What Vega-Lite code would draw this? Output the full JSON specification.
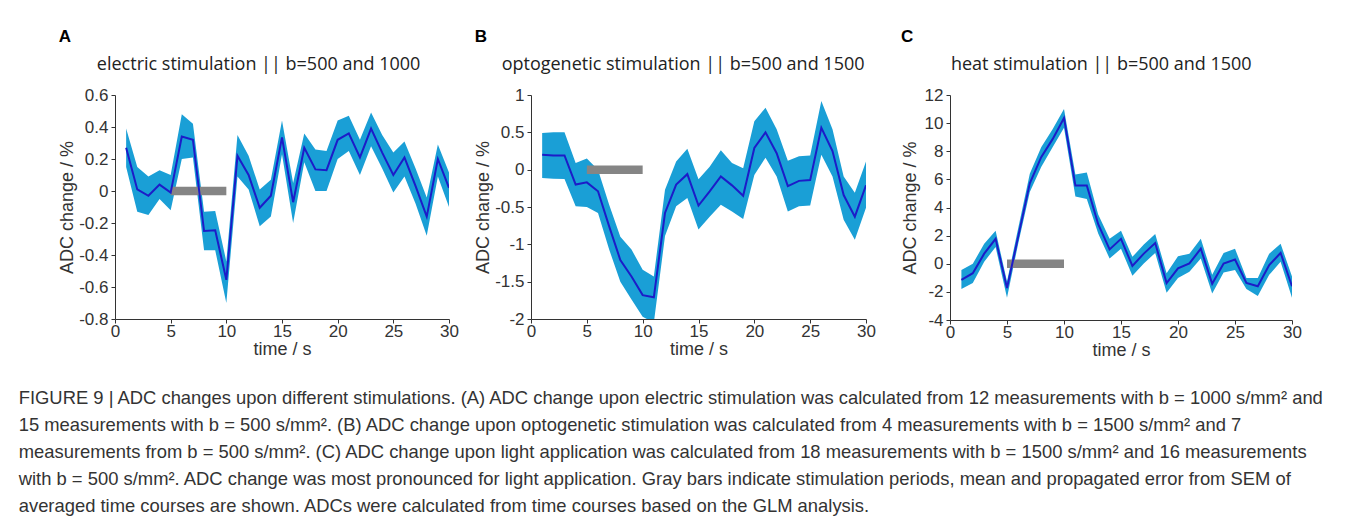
{
  "$schema": "https://vega.github.io/schema/vega-lite/v6.json",
  "padding": {"left": 18, "top": 28, "right": 5, "bottom": 5},
  "background": "#ffffff",
  "datasets": {
    "adc": [
      {"panel":"A","t":1,"mean":0.27,"lo":0.15,"hi":0.39},
      {"panel":"A","t":2,"mean":0.01,"lo":-0.13,"hi":0.15},
      {"panel":"A","t":3,"mean":-0.03,"lo":-0.15,"hi":0.09},
      {"panel":"A","t":4,"mean":0.04,"lo":-0.05,"hi":0.13},
      {"panel":"A","t":5,"mean":-0.01,"lo":-0.12,"hi":0.10},
      {"panel":"A","t":6,"mean":0.34,"lo":0.20,"hi":0.48},
      {"panel":"A","t":7,"mean":0.32,"lo":0.21,"hi":0.42},
      {"panel":"A","t":8,"mean":-0.25,"lo":-0.37,"hi":-0.13},
      {"panel":"A","t":9,"mean":-0.245,"lo":-0.37,"hi":-0.125},
      {"panel":"A","t":10,"mean":-0.555,"lo":-0.70,"hi":-0.44},
      {"panel":"A","t":11,"mean":0.22,"lo":0.09,"hi":0.35},
      {"panel":"A","t":12,"mean":0.10,"lo":0.01,"hi":0.22},
      {"panel":"A","t":13,"mean":-0.105,"lo":-0.22,"hi":0.01},
      {"panel":"A","t":14,"mean":-0.03,"lo":-0.16,"hi":0.07},
      {"panel":"A","t":15,"mean":0.335,"lo":0.23,"hi":0.44},
      {"panel":"A","t":16,"mean":-0.07,"lo":-0.20,"hi":0.05},
      {"panel":"A","t":17,"mean":0.27,"lo":0.18,"hi":0.36},
      {"panel":"A","t":18,"mean":0.135,"lo":0.0,"hi":0.26},
      {"panel":"A","t":19,"mean":0.13,"lo":0.0,"hi":0.25},
      {"panel":"A","t":20,"mean":0.32,"lo":0.20,"hi":0.44},
      {"panel":"A","t":21,"mean":0.36,"lo":0.25,"hi":0.47},
      {"panel":"A","t":22,"mean":0.21,"lo":0.10,"hi":0.32},
      {"panel":"A","t":23,"mean":0.39,"lo":0.28,"hi":0.49},
      {"panel":"A","t":24,"mean":0.24,"lo":0.14,"hi":0.35},
      {"panel":"A","t":25,"mean":0.10,"lo":-0.01,"hi":0.24},
      {"panel":"A","t":26,"mean":0.21,"lo":0.09,"hi":0.31},
      {"panel":"A","t":27,"mean":0.03,"lo":-0.08,"hi":0.14},
      {"panel":"A","t":28,"mean":-0.16,"lo":-0.28,"hi":-0.04},
      {"panel":"A","t":29,"mean":0.20,"lo":0.09,"hi":0.29},
      {"panel":"A","t":30,"mean":0.02,"lo":-0.10,"hi":0.115},
      {"panel":"B","t":1,"mean":0.2,"lo":-0.11,"hi":0.49},
      {"panel":"B","t":2,"mean":0.19,"lo":-0.12,"hi":0.5},
      {"panel":"B","t":3,"mean":0.19,"lo":-0.125,"hi":0.5},
      {"panel":"B","t":4,"mean":-0.2,"lo":-0.49,"hi":0.09},
      {"panel":"B","t":5,"mean":-0.17,"lo":-0.5,"hi":0.15},
      {"panel":"B","t":6,"mean":-0.29,"lo":-0.58,"hi":0.0},
      {"panel":"B","t":7,"mean":-0.76,"lo":-1.07,"hi":-0.47},
      {"panel":"B","t":8,"mean":-1.21,"lo":-1.5,"hi":-0.9},
      {"panel":"B","t":9,"mean":-1.43,"lo":-1.74,"hi":-1.07},
      {"panel":"B","t":10,"mean":-1.68,"lo":-1.97,"hi":-1.34},
      {"panel":"B","t":11,"mean":-1.71,"lo":-2.05,"hi":-1.43},
      {"panel":"B","t":12,"mean":-0.58,"lo":-0.89,"hi":-0.27},
      {"panel":"B","t":13,"mean":-0.2,"lo":-0.49,"hi":0.11},
      {"panel":"B","t":14,"mean":-0.06,"lo":-0.38,"hi":0.28},
      {"panel":"B","t":15,"mean":-0.48,"lo":-0.8,"hi":-0.13},
      {"panel":"B","t":16,"mean":-0.29,"lo":-0.63,"hi":0.04},
      {"panel":"B","t":17,"mean":-0.09,"lo":-0.47,"hi":0.26},
      {"panel":"B","t":18,"mean":-0.21,"lo":-0.56,"hi":0.09},
      {"panel":"B","t":19,"mean":-0.35,"lo":-0.66,"hi":0.02},
      {"panel":"B","t":20,"mean":0.29,"lo":-0.07,"hi":0.65},
      {"panel":"B","t":21,"mean":0.5,"lo":0.16,"hi":0.83},
      {"panel":"B","t":22,"mean":0.22,"lo":-0.09,"hi":0.54},
      {"panel":"B","t":23,"mean":-0.22,"lo":-0.56,"hi":0.12},
      {"panel":"B","t":24,"mean":-0.15,"lo":-0.49,"hi":0.18},
      {"panel":"B","t":25,"mean":-0.14,"lo":-0.48,"hi":0.19},
      {"panel":"B","t":26,"mean":0.56,"lo":0.2,"hi":0.92},
      {"panel":"B","t":27,"mean":0.25,"lo":-0.09,"hi":0.54},
      {"panel":"B","t":28,"mean":-0.34,"lo":-0.67,"hi":-0.09},
      {"panel":"B","t":29,"mean":-0.63,"lo":-0.94,"hi":-0.31},
      {"panel":"B","t":30,"mean":-0.21,"lo":-0.51,"hi":0.11},
      {"panel":"C","t":1,"mean":-1.14,"lo":-1.8,"hi":-0.44},
      {"panel":"C","t":2,"mean":-0.67,"lo":-1.37,"hi":0.0},
      {"panel":"C","t":3,"mean":0.72,"lo":0.14,"hi":1.42},
      {"panel":"C","t":4,"mean":1.77,"lo":1.19,"hi":2.35},
      {"panel":"C","t":5,"mean":-1.72,"lo":-2.42,"hi":-1.26},
      {"panel":"C","t":6,"mean":2.0,"lo":1.5,"hi":2.6},
      {"panel":"C","t":7,"mean":5.72,"lo":5.1,"hi":6.4},
      {"panel":"C","t":8,"mean":7.58,"lo":6.88,"hi":8.28},
      {"panel":"C","t":9,"mean":8.86,"lo":8.28,"hi":9.56},
      {"panel":"C","t":10,"mean":10.37,"lo":9.67,"hi":11.0},
      {"panel":"C","t":11,"mean":5.56,"lo":4.79,"hi":6.35},
      {"panel":"C","t":12,"mean":5.56,"lo":4.6,"hi":6.49},
      {"panel":"C","t":13,"mean":2.81,"lo":2.16,"hi":3.51},
      {"panel":"C","t":14,"mean":1.02,"lo":0.37,"hi":1.77},
      {"panel":"C","t":15,"mean":1.77,"lo":1.07,"hi":2.35},
      {"panel":"C","t":16,"mean":-0.16,"lo":-0.86,"hi":0.49},
      {"panel":"C","t":17,"mean":0.72,"lo":0.02,"hi":1.37},
      {"panel":"C","t":18,"mean":1.47,"lo":0.77,"hi":2.12},
      {"panel":"C","t":19,"mean":-1.37,"lo":-2.07,"hi":-0.67},
      {"panel":"C","t":20,"mean":-0.33,"lo":-1.02,"hi":0.53},
      {"panel":"C","t":21,"mean":0.02,"lo":-0.56,"hi":0.72},
      {"panel":"C","t":22,"mean":1.07,"lo":0.37,"hi":1.77},
      {"panel":"C","t":23,"mean":-1.42,"lo":-2.12,"hi":-0.79},
      {"panel":"C","t":24,"mean":0.02,"lo":-0.63,"hi":0.77},
      {"panel":"C","t":25,"mean":0.3,"lo":-0.44,"hi":1.07},
      {"panel":"C","t":26,"mean":-1.37,"lo":-1.79,"hi":-1.02},
      {"panel":"C","t":27,"mean":-1.6,"lo":-2.3,"hi":-1.02},
      {"panel":"C","t":28,"mean":-0.09,"lo":-0.79,"hi":0.72},
      {"panel":"C","t":29,"mean":0.77,"lo":0.14,"hi":1.42},
      {"panel":"C","t":30,"mean":-1.6,"lo":-2.42,"hi":-0.9}
    ],
    "bars": [
      {"panel":"A","start":5,"end":10,"level":0},
      {"panel":"B","start":5,"end":10,"level":0},
      {"panel":"C","start":5,"end":10,"level":0}
    ]
  },
  "title": {
    "text": [
      "FIGURE 9 | ADC changes upon different stimulations. (A) ADC change upon electric stimulation was calculated from 12 measurements with b = 1000 s/mm² and",
      "15 measurements with b = 500 s/mm². (B) ADC change upon optogenetic stimulation was calculated from 4 measurements with b = 1500 s/mm² and 7",
      "measurements from b = 500 s/mm². (C) ADC change upon light application was calculated from 18 measurements with b = 1500 s/mm² and 16 measurements",
      "with b = 500 s/mm². ADC change was most pronounced for light application. Gray bars indicate stimulation periods, mean and propagated error from SEM of",
      "averaged time courses are shown. ADCs were calculated from time courses based on the GLM analysis."
    ],
    "orient": "bottom",
    "anchor": "start",
    "frame": "bounds",
    "dx": -40,
    "offset": 30,
    "font": "Liberation Sans",
    "fontSize": 18.4,
    "fontWeight": "normal",
    "color": "#333333",
    "lineHeight": 27
  },
  "spacing": 25,
  "hconcat": [
    {
      "spacing": 15,
      "hconcat": [
        {
          "title": {"text": "A", "anchor": "start", "frame": "bounds", "font": "Liberation Sans", "fontSize": 17, "fontWeight": "bold", "color": "#000000", "offset": 10},
          "vconcat": [
            {
              "width": 334,
              "height": 224,
              "title": {"text": "electric stimulation || b=500 and 1000", "anchor": "middle", "frame": "bounds", "font": "Open Sans", "fontSize": 18, "fontWeight": "normal", "color": "#222222", "offset": 12},
              "layer": [
                {
                  "data": {"name": "adc"},
                  "transform": [{"filter": "datum.panel == 'A'"}],
                  "mark": {"type": "area", "color": "#1a9fd6", "opacity": 1, "clip": true},
                  "encoding": {
                    "x": {"field": "t", "type": "quantitative", "scale": {"domain": [0, 30]}, "axis": {"title": "time / s", "values": [0,5,10,15,20,25,30], "labelOverlap": false}},
                    "y": {"field": "lo", "type": "quantitative", "scale": {"domain": [-0.8, 0.6]}, "axis": {"title": "ADC change / %", "values": [-0.8,-0.6,-0.4,-0.2,0,0.2,0.4,0.6], "labelOverlap": false, "labelExpr": "datum.value < 0 ? '-' + format(-datum.value, '~g') : format(datum.value, '~g')"}},
                    "y2": {"field": "hi"}
                  }
                },
                {
                  "data": {"name": "bars"},
                  "transform": [{"filter": "datum.panel == 'A'"}],
                  "mark": {"type": "rule", "color": "#858585", "strokeWidth": 8.5, "strokeCap": "butt"},
                  "encoding": {
                    "x": {"field": "start", "type": "quantitative", "scale": {"domain": [0, 30]}, "axis": {"title": "time / s", "values": [0,5,10,15,20,25,30], "labelOverlap": false}},
                    "x2": {"field": "end"},
                    "y": {"field": "level", "type": "quantitative", "scale": {"domain": [-0.8, 0.6]}, "axis": {"title": "ADC change / %", "values": [-0.8,-0.6,-0.4,-0.2,0,0.2,0.4,0.6], "labelOverlap": false, "labelExpr": "datum.value < 0 ? '-' + format(-datum.value, '~g') : format(datum.value, '~g')"}}
                  }
                },
                {
                  "data": {"name": "adc"},
                  "transform": [{"filter": "datum.panel == 'A'"}],
                  "mark": {"type": "line", "color": "#1c1cc8", "strokeWidth": 2, "clip": true},
                  "encoding": {
                    "x": {"field": "t", "type": "quantitative", "scale": {"domain": [0, 30]}, "axis": {"title": "time / s", "values": [0,5,10,15,20,25,30], "labelOverlap": false}},
                    "y": {"field": "mean", "type": "quantitative", "scale": {"domain": [-0.8, 0.6]}, "axis": {"title": "ADC change / %", "values": [-0.8,-0.6,-0.4,-0.2,0,0.2,0.4,0.6], "labelOverlap": false, "labelExpr": "datum.value < 0 ? '-' + format(-datum.value, '~g') : format(datum.value, '~g')"}}
                  }
                }
              ]
            }
          ]
        },
        {
          "title": {"text": "B", "anchor": "start", "frame": "bounds", "font": "Liberation Sans", "fontSize": 17, "fontWeight": "bold", "color": "#000000", "offset": 10},
          "vconcat": [
            {
              "width": 335,
              "height": 224,
              "title": {"text": "optogenetic stimulation || b=500 and 1500", "anchor": "middle", "frame": "bounds", "dx": 8, "font": "Open Sans", "fontSize": 18, "fontWeight": "normal", "color": "#222222", "offset": 12},
              "layer": [
                {
                  "data": {"name": "adc"},
                  "transform": [{"filter": "datum.panel == 'B'"}],
                  "mark": {"type": "area", "color": "#1a9fd6", "opacity": 1, "clip": true},
                  "encoding": {
                    "x": {"field": "t", "type": "quantitative", "scale": {"domain": [0, 30]}, "axis": {"title": "time / s", "values": [0,5,10,15,20,25,30], "labelOverlap": false}},
                    "y": {"field": "lo", "type": "quantitative", "scale": {"domain": [-2, 1]}, "axis": {"title": "ADC change / %", "values": [-2,-1.5,-1,-0.5,0,0.5,1], "labelOverlap": false, "labelExpr": "datum.value < 0 ? '-' + format(-datum.value, '~g') : format(datum.value, '~g')"}},
                    "y2": {"field": "hi"}
                  }
                },
                {
                  "data": {"name": "bars"},
                  "transform": [{"filter": "datum.panel == 'B'"}],
                  "mark": {"type": "rule", "color": "#858585", "strokeWidth": 8.5, "strokeCap": "butt"},
                  "encoding": {
                    "x": {"field": "start", "type": "quantitative", "scale": {"domain": [0, 30]}, "axis": {"title": "time / s", "values": [0,5,10,15,20,25,30], "labelOverlap": false}},
                    "x2": {"field": "end"},
                    "y": {"field": "level", "type": "quantitative", "scale": {"domain": [-2, 1]}, "axis": {"title": "ADC change / %", "values": [-2,-1.5,-1,-0.5,0,0.5,1], "labelOverlap": false, "labelExpr": "datum.value < 0 ? '-' + format(-datum.value, '~g') : format(datum.value, '~g')"}}
                  }
                },
                {
                  "data": {"name": "adc"},
                  "transform": [{"filter": "datum.panel == 'B'"}],
                  "mark": {"type": "line", "color": "#1c1cc8", "strokeWidth": 2, "clip": true},
                  "encoding": {
                    "x": {"field": "t", "type": "quantitative", "scale": {"domain": [0, 30]}, "axis": {"title": "time / s", "values": [0,5,10,15,20,25,30], "labelOverlap": false}},
                    "y": {"field": "mean", "type": "quantitative", "scale": {"domain": [-2, 1]}, "axis": {"title": "ADC change / %", "values": [-2,-1.5,-1,-0.5,0,0.5,1], "labelOverlap": false, "labelExpr": "datum.value < 0 ? '-' + format(-datum.value, '~g') : format(datum.value, '~g')"}}
                  }
                }
              ]
            }
          ]
        }
      ]
    },
    {
      "title": {"text": "C", "anchor": "start", "frame": "bounds", "font": "Liberation Sans", "fontSize": 17, "fontWeight": "bold", "color": "#000000", "offset": 10},
      "vconcat": [
        {
          "width": 342,
          "height": 225,
          "title": {"text": "heat stimulation || b=500 and 1500", "anchor": "middle", "frame": "bounds", "font": "Open Sans", "fontSize": 18, "fontWeight": "normal", "color": "#222222", "offset": 12},
          "layer": [
            {
              "data": {"name": "adc"},
              "transform": [{"filter": "datum.panel == 'C'"}],
              "mark": {"type": "area", "color": "#1a9fd6", "opacity": 1, "clip": true},
              "encoding": {
                "x": {"field": "t", "type": "quantitative", "scale": {"domain": [0, 30]}, "axis": {"title": "time / s", "values": [0,5,10,15,20,25,30], "labelOverlap": false}},
                "y": {"field": "lo", "type": "quantitative", "scale": {"domain": [-4, 12]}, "axis": {"title": "ADC change / %", "titlePadding": 5, "values": [-4,-2,0,2,4,6,8,10,12], "labelOverlap": false, "labelExpr": "datum.value < 0 ? '-' + format(-datum.value, '~g') : format(datum.value, '~g')"}},
                "y2": {"field": "hi"}
              }
            },
            {
              "data": {"name": "bars"},
              "transform": [{"filter": "datum.panel == 'C'"}],
              "mark": {"type": "rule", "color": "#858585", "strokeWidth": 8.5, "strokeCap": "butt"},
              "encoding": {
                "x": {"field": "start", "type": "quantitative", "scale": {"domain": [0, 30]}, "axis": {"title": "time / s", "values": [0,5,10,15,20,25,30], "labelOverlap": false}},
                "x2": {"field": "end"},
                "y": {"field": "level", "type": "quantitative", "scale": {"domain": [-4, 12]}, "axis": {"title": "ADC change / %", "titlePadding": 5, "values": [-4,-2,0,2,4,6,8,10,12], "labelOverlap": false, "labelExpr": "datum.value < 0 ? '-' + format(-datum.value, '~g') : format(datum.value, '~g')"}}
              }
            },
            {
              "data": {"name": "adc"},
              "transform": [{"filter": "datum.panel == 'C'"}],
              "mark": {"type": "line", "color": "#1c1cc8", "strokeWidth": 2, "clip": true},
              "encoding": {
                "x": {"field": "t", "type": "quantitative", "scale": {"domain": [0, 30]}, "axis": {"title": "time / s", "values": [0,5,10,15,20,25,30], "labelOverlap": false}},
                "y": {"field": "mean", "type": "quantitative", "scale": {"domain": [-4, 12]}, "axis": {"title": "ADC change / %", "titlePadding": 5, "values": [-4,-2,0,2,4,6,8,10,12], "labelOverlap": false, "labelExpr": "datum.value < 0 ? '-' + format(-datum.value, '~g') : format(datum.value, '~g')"}}
              }
            }
          ]
        }
      ]
    }
  ],
  "config": {
    "view": {"stroke": null},
    "axis": {
      "grid": false,
      "domainColor": "#333333",
      "tickColor": "#333333",
      "tickSize": 4,
      "labelFont": "Liberation Sans",
      "labelFontSize": 17,
      "labelColor": "#333333",
      "labelFlush": false,
      "labelOverlap": false,
      "titleFont": "Liberation Sans",
      "titleFontSize": 18,
      "titleFontWeight": "normal",
      "titleColor": "#333333"
    },
    "axisX": {"labelPadding": 0, "titlePadding": 1, "labelAngle": 0},
    "axisY": {"labelPadding": 3, "titlePadding": 2}
  }
}
